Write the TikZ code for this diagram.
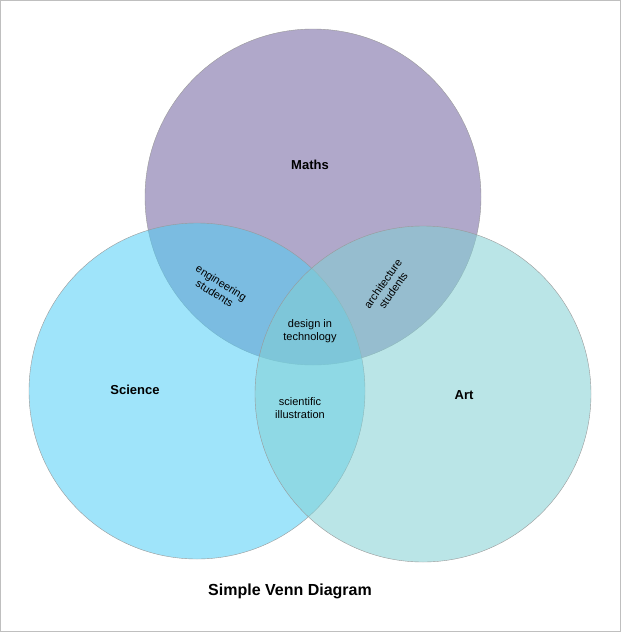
\documentclass[tikz,border=0pt]{standalone}
\usepackage{fontspec}
\setmainfont{Liberation Sans}
\usetikzlibrary{positioning}
\definecolor{mathscol}{RGB}{176,168,202}
\definecolor{sciencecol}{RGB}{80,205,245}
\definecolor{artcol}{RGB}{130,208,212}
\tikzset{
set/.style={circle, minimum size=336pt, draw=black!40, thin}, % the three sets
setlabel/.style={font=\bfseries\fontsize{13}{15}\selectfont}, % set names
overlap/.style={align=center, font=\fontsize{11}{12.5}\selectfont, inner sep=0pt}, % overlap texts
}
\begin{document}
\begin{tikzpicture}[x=1pt, y=-1pt]
    \useasboundingbox (0,0) rectangle (621,632);
    \draw[black!25] (0.5,0.5) rectangle (620.5,631.5);
    \node[set, fill=mathscol] (maths) at (313,197) {};
    \node[set, fill=sciencecol, fill opacity=0.55] (science) at (197,391) {};
    \node[set, fill=artcol, fill opacity=0.55] (art) at (423,394) {};
    \node[setlabel] (mathslabel) at (310,165) {Maths};
    \node[setlabel] (sciencelabel) at (135,390) {Science};
    \node[setlabel] (artlabel) at (464,395) {Art};
    \node[overlap, rotate=-32] (eng) at (218,288) {engineering\\students};
    \node[overlap, rotate=55] (arch) at (388,287) {architecture\\students};
    \node[overlap] (design) at (310,331) {design in\\technology};
    \node[overlap] (sci) at (300,408) {scientific\\illustration};
    \node[font=\bfseries\fontsize{16}{18}\selectfont] (title) at (290,591) {Simple Venn Diagram};
\end{tikzpicture}
\end{document}
